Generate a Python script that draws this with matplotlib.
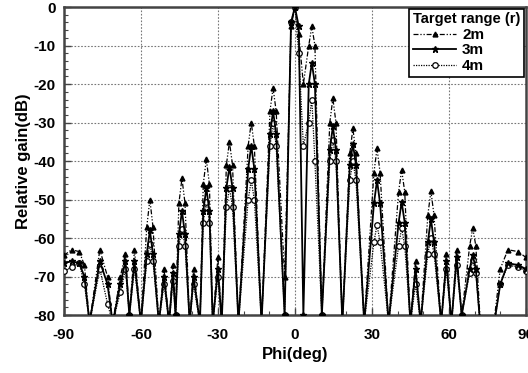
import numpy as np
import matplotlib.pyplot as plt
from matplotlib.ticker import MultipleLocator

plt.rcParams['font.family'] = ['Liberation Sans', 'DejaVu Sans']
plt.rcParams['font.weight'] = 'bold'
plt.rcParams['axes.unicode_minus'] = False

# Angles (deg) of the lobe peaks, shoulders and nulls
phi = [-90, -87, -84, -82, -80, -76, -73, -71, -68, -66, -64.5, -62.5, -60,
       -57.7, -56.5, -55.3, -53, -51, -49, -47.5, -46.5,
       -45.2, -44, -42.8, -41, -39.5, -37,
       -35.7, -34.5, -33.3, -32, -30, -28.5,
       -26.7, -25.5, -24.3, -22,
       -18.2, -17, -15.8, -13,
       -9.7, -8.5, -7.3, -4,
       -1.5, 0, 1.5, 3.3,
       5.4, 6.6, 7.8, 10.5,
       13.6, 14.8, 16, 18.5,
       21.4, 22.6, 23.8, 27,
       30.8, 32, 33.2, 36.5,
       40.4, 41.6, 42.8, 45, 47, 49,
       51.8, 53, 54.2, 57, 59, 61, 63, 65,
       68.1, 69.3, 70.5, 72.5, 77, 80, 83, 87, 90]

# Relative gain (dB) for each target range
gain_2m = [-64.5, -63, -63.5, -67, -82, -63, -70, -82, -70, -64, -80, -63, -82,
           -57, -50, -57, -82, -68, -82, -67, -80,
           -51, -44.5, -51, -82, -68, -82,
           -46, -39.5, -46, -82, -65, -82,
           -41, -35, -41, -82,
           -36, -30, -36, -82,
           -27, -21, -27, -70,
           -5, 0, -7, -20,
           -10, -5, -10, -80,
           -30, -23.7, -30, -82,
           -38, -31.5, -38, -82,
           -43, -36.7, -43, -82,
           -48, -42.3, -48, -82, -66, -82,
           -54, -47.8, -54, -82, -64, -82, -63, -80,
           -62, -57.4, -62, -85, -85, -68, -63, -63.5, -65]
gain_3m = [-66.5, -66, -66.5, -70, -82, -66, -72, -82, -72, -66, -80, -66, -82,
           -64, -58, -64, -82, -70, -82, -69, -80,
           -59, -53, -59, -82, -70, -82,
           -53, -47, -53, -82, -68, -82,
           -47, -41.5, -47, -82,
           -42, -36, -42, -82,
           -33, -27, -33, -80,
           -4, 0, -5, -80,
           -20, -14.5, -20, -80,
           -37, -31, -37, -82,
           -41, -35.5, -41, -82,
           -51, -45, -51, -82,
           -56, -50.6, -56, -82, -68, -82,
           -61, -55, -61, -82, -66, -82, -65, -80,
           -68, -64.4, -68, -85, -85, -72, -66.5, -67, -68]
gain_4m = [-68.5, -67.5, -66.5, -72, -82, -68, -77, -82, -74, -68, -80, -68, -82,
           -66, -61.5, -66, -82, -72, -82, -71, -80,
           -62, -57.5, -62, -82, -72, -82,
           -56, -50.6, -56, -82, -70, -82,
           -52, -47, -52, -82,
           -50, -45, -50, -82,
           -36, -30, -36, -80,
           -4, 0, -12, -36,
           -30, -24, -40, -80,
           -40, -34.5, -40, -82,
           -45, -40, -45, -82,
           -61, -56.6, -61, -82,
           -62, -57.4, -62, -82, -72, -82,
           -64, -60, -64, -82, -68, -82, -67, -80,
           -69, -65.7, -69, -85, -85, -72, -67, -67.5, -68.5]

labels = ['2m', '3m', '4m']

fig = plt.figure(figsize=(5.28, 3.73), dpi=100)
ax = fig.add_axes([0.121, 0.155, 0.875, 0.826])

ax.plot(phi, gain_2m, color='black', lw=0.9, ls=(0, (4, 1.5, 1, 1.5, 1, 1.5)),
        marker='^', ms=3.5, label=labels[0], zorder=3)
ax.plot(phi, gain_3m, color='black', lw=1.3, ls='-',
        marker='*', ms=5, label=labels[1], zorder=4)
ax.plot(phi, gain_4m, color='black', lw=0.9, ls=(0, (1, 1)),
        marker='o', ms=4, mfc='white', mew=0.9, label=labels[2], zorder=3)

ax.set_xlim(-90, 90)
ax.set_ylim(-80, 0)
ax.xaxis.set_major_locator(MultipleLocator(30))
ax.xaxis.set_minor_locator(MultipleLocator(10))
ax.yaxis.set_major_locator(MultipleLocator(10))
ax.yaxis.set_minor_locator(MultipleLocator(2))
ax.grid(True, which='major', ls=(0, (1.5, 1.5)), color='#777777', lw=0.8)
ax.tick_params(which='both', direction='in', labelsize=11, color='#444444')
ax.tick_params(which='major', length=5, width=1)
ax.tick_params(which='minor', length=3, width=0.8)
ax.tick_params(axis='x', pad=9)
ax.tick_params(axis='y', pad=6)
for s in ax.spines.values():
    s.set_linewidth(1.8)
    s.set_color('#444444')

ax.set_xlabel('Phi(deg)', fontsize=12, fontweight='bold', labelpad=4)
ax.set_ylabel('Relative gain(dB)', fontsize=12, fontweight='bold', labelpad=2)

leg = ax.legend(title='Target range (r)', loc='upper right', fontsize=11,
                title_fontsize=10.5, handlelength=2.8, handletextpad=0.4,
                borderpad=0.25, labelspacing=0.1, fancybox=False,
                framealpha=1, edgecolor='black', borderaxespad=0.1)
leg.get_title().set_fontweight('bold')
leg._legend_box.align = 'left'
leg.get_frame().set_linewidth(1.2)

fig.savefig('out.png', dpi=100)
